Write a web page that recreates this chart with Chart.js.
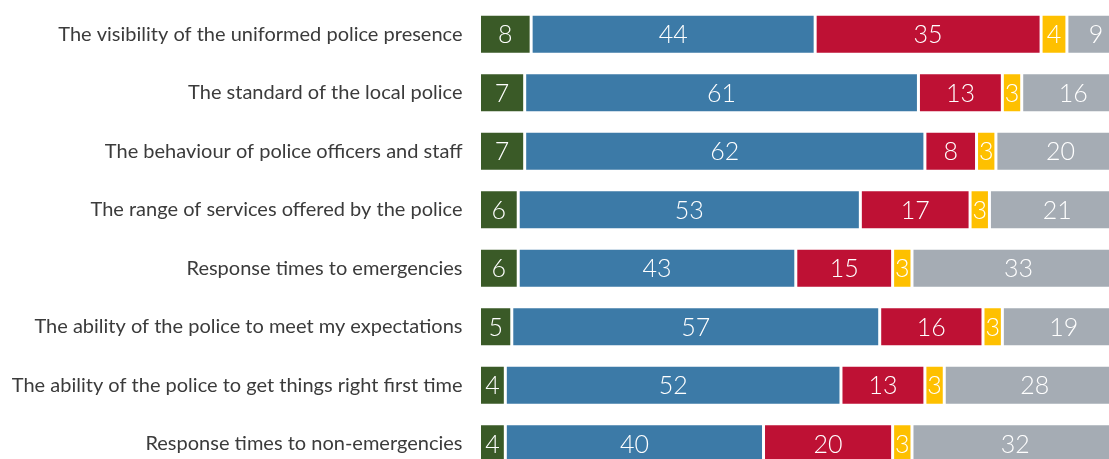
<!DOCTYPE html>
<html>
<head>
<meta charset="utf-8">
<script src="https://cdn.jsdelivr.net/npm/chart.js@4"></script>
<style>
  html, body { margin: 0; padding: 0; overflow: hidden; background: #fff; }
  #wrap { position: relative; width: 1125px; height: 480px; }
</style>
</head>
<body>
<div id="wrap"><canvas id="policeChart"></canvas></div>
<script>
const categories = [
	'The visibility of the uniformed police presence',
	'The standard of the local police',
	'The behaviour of police officers and staff',
	'The range of services offered by the police',
	'Response times to emergencies',
	'The ability of the police to meet my expectations',
	'The ability of the police to get things right first time',
	'Response times to non-emergencies'
];
const veryGood = [8, 7, 7, 6, 6, 5, 4, 4];
const good = [44, 61, 62, 53, 43, 57, 52, 40];
const poor = [35, 13, 8, 17, 15, 16, 13, 20];
const veryPoor = [4, 3, 3, 3, 3, 3, 3, 3];
const dontKnow = [9, 16, 20, 21, 33, 19, 28, 32];

const FONT = "Lato, 'Open Sans', sans-serif";

// white numbers in the middle of each segment
const segmentLabels = {
	id: 'segmentLabels',
	afterDatasetsDraw(chart) {
		const c = chart.ctx;
		c.save();
		c.fillStyle = '#ffffff';
		c.font = '300 25px ' + FONT;
		c.textAlign = 'center';
		c.textBaseline = 'middle';
		chart.data.datasets.forEach((ds, i) => {
			chart.getDatasetMeta(i).data.forEach((bar, j) => {
				const p = bar.getProps(['x', 'y', 'base'], true);
				c.fillText(String(ds.data[j]), (p.x + p.base) / 2, p.y + 1);
			});
		});
		c.restore();
	}
};

const ctx = document.getElementById('policeChart').getContext('2d');
const policeChart = new Chart(ctx, {
	type: 'bar',
	data: {
	labels: categories,
	datasets: [
		{ label: 'Very good', data: veryGood, backgroundColor: '#3a5a27' },
		{ label: 'Good', data: good, backgroundColor: '#3c7aa7' },
		{ label: 'Poor', data: poor, backgroundColor: '#be1134' },
		{ label: 'Very poor', data: veryPoor, backgroundColor: '#fec000' },
		{ label: "Don't know", data: dontKnow, backgroundColor: '#a5acb4' }
	].map(d => Object.assign(d, {
		borderColor: '#ffffff',
		borderWidth: 1.5,
		borderSkipped: false,
		barPercentage: 0.684,
		categoryPercentage: 1
	}))
	},
	options: {
	indexAxis: 'y',
	animation: false,
	responsive: true,
	maintainAspectRatio: false,
	layout: { padding: { top: 5, bottom: 7, left: 0, right: 0 } },
	scales: {
		x: {
			stacked: true,
			min: 0,
			max: 100,
			display: false
		},
		y: {
			stacked: true,
			grid: { display: false, drawTicks: false },
			border: { display: false },
			afterFit(scale) {
				scale.width = 479.5;
				// label padding should only push text left, not shrink the rows
				scale.paddingTop = 0;
				scale.paddingBottom = 0;
			},
			ticks: {
				padding: 17,
				color: '#3b3b3b',
				font: { family: FONT, size: 20 }
			}
		}
	},
	plugins: {
		legend: { display: false },
		tooltip: { enabled: false }
	}
	},
	plugins: [segmentLabels]
});
</script>
</body>
</html>
